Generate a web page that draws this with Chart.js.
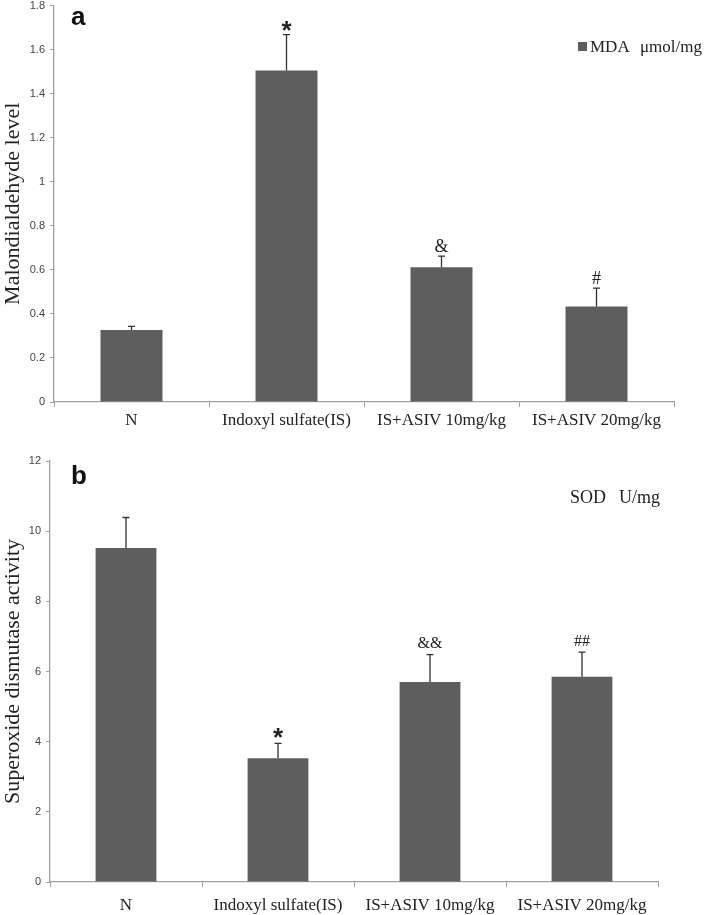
<!DOCTYPE html>
<html>
<head>
<meta charset="utf-8">
<script src="https://cdn.jsdelivr.net/npm/chart.js@4.4.0/dist/chart.umd.min.js"></script>
<style>
  html, body { margin: 0; padding: 0; background: #fff; }
  #wrap { position: relative; width: 709px; height: 915px; overflow: hidden; }
  #boxA { position: absolute; left: 0; top: -6px; }
  #boxB { position: absolute; left: 0; top: 430px; }
</style>
</head>
<body>
<div id="wrap">
  <canvas id="boxA" width="709" height="436"></canvas>
  <canvas id="boxB" width="709" height="485"></canvas>
</div>
<script>
// groups on the x axis
const groups = ['N', 'Indoxyl sulfate(IS)', 'IS+ASIV 10mg/kg', 'IS+ASIV 20mg/kg'];

// panel a - malondialdehyde (MDA, umol/mg)
const mdaValues = [0.327, 1.505, 0.612, 0.434];
const mdaErrors = [0.016, 0.163, 0.05, 0.083];
const mdaMarks = ['', '*', '&', '#'];
const mdaTicks = [0, 0.2, 0.4, 0.6, 0.8, 1, 1.2, 1.4, 1.6, 1.8];

// panel b - superoxide dismutase (SOD, U/mg)
const sodValues = [9.52, 3.53, 5.7, 5.85];
const sodErrors = [0.87, 0.42, 0.78, 0.7];
const sodMarks = ['', '*', '&&', '##'];
const sodTicks = [0, 2, 4, 6, 8, 10, 12];

const BAR = '#5e5e5e';
const AXIS = '#a0a0a0';
const SERIF = '"Liberation Serif", "Times New Roman", serif';
const SANS = '"Liberation Sans", Arial, sans-serif';

// draws error bars, significance marks, panel letter and the legend text
function makeExtras(cfg) {
  return {
    id: 'extras',
    afterDatasetsDraw(chart) {
      const ctx = chart.ctx;
      const y = chart.scales.y;
      const meta = chart.getDatasetMeta(0);
      ctx.save();
      meta.data.forEach((bar, i) => {
        const x = bar.x;
        const yTop = y.getPixelForValue(cfg.values[i] + cfg.errors[i]);
        const yBar = y.getPixelForValue(cfg.values[i]);
        ctx.strokeStyle = '#333';
        ctx.lineWidth = 1.3;
        ctx.beginPath();
        ctx.moveTo(x, yBar);
        ctx.lineTo(x, yTop);
        ctx.moveTo(x - 3.5, yTop);
        ctx.lineTo(x + 3.5, yTop);
        ctx.stroke();

        const m = cfg.marks[i];
        if (!m) return;
        const cy = yTop - cfg.markGap;
        ctx.fillStyle = '#222';
        ctx.textAlign = 'center';
        ctx.textBaseline = 'alphabetic';
        if (m === '*') {
          ctx.font = 'bold 26px ' + SANS;
          ctx.fillText(m, x, cy + 0.57 * 26);
        } else {
          ctx.font = cfg.markSize + 'px ' + SERIF;
          ctx.fillText(m, x, cy + 0.34 * cfg.markSize);
        }
      });
      ctx.restore();
    },
    afterDraw(chart) {
      const ctx = chart.ctx;
      ctx.save();
      ctx.fillStyle = '#111';
      ctx.textAlign = 'left';
      ctx.textBaseline = 'alphabetic';
      ctx.font = 'bold 26px ' + SANS;
      ctx.fillText(cfg.letter, cfg.letterX, cfg.letterY);
      if (cfg.swatch) {
        ctx.fillStyle = BAR;
        ctx.fillRect(cfg.swatch[0], cfg.swatch[1], 9, 9);
      }
      ctx.fillStyle = '#222';
      ctx.font = cfg.legendSize + 'px ' + SERIF;
      ctx.fillText(cfg.legend[0], cfg.legendX[0], cfg.legendY);
      ctx.fillText(cfg.legend[1], cfg.legendX[1], cfg.legendY);
      ctx.restore();
    }
  };
}

function makeChart(id, p) {
  return new Chart(document.getElementById(id), {
    type: 'bar',
    data: {
      labels: groups,
      datasets: [{
        data: p.values,
        backgroundColor: BAR,
        borderWidth: 0,
        barPercentage: 0.4,
        categoryPercentage: 1
      }]
    },
    options: {
      responsive: false,
      animation: false,
      devicePixelRatio: 1,
      layout: { padding: { top: p.padTop, right: p.padRight, left: 0, bottom: 0 } },
      plugins: { legend: { display: false }, tooltip: { enabled: false } },
      scales: {
        x: {
          offset: true,
          grid: { offset: true, drawOnChartArea: false, drawTicks: true, tickLength: 5, color: AXIS },
          border: { color: AXIS, width: 1.3 },
          ticks: {
            font: { family: SERIF, size: 17 },
            color: '#222',
            padding: p.labelPad,
            maxRotation: 0,
            autoSkip: false
          },
          afterFit: s => { s.height = p.xHeight; }
        },
        y: {
          min: 0,
          max: p.ticks[p.ticks.length - 1],
          afterBuildTicks: s => { s.ticks = p.ticks.map(v => ({ value: v })); },
          grid: { drawOnChartArea: false, drawTicks: true, tickLength: 4, color: AXIS },
          border: { color: AXIS, width: 1.3 },
          ticks: {
            font: { family: SANS, size: 11 },
            color: '#444',
            padding: 5,
            callback: v => String(Number(v.toFixed(2)))
          },
          title: {
            display: true,
            text: p.title,
            font: { family: SERIF, size: 22 },
            color: '#222',
            padding: 0
          },
          afterFit: s => { s.width = p.yWidth; }
        }
      }
    },
    plugins: [makeExtras(p)]
  });
}

makeChart('boxA', {
  values: mdaValues, errors: mdaErrors, marks: mdaMarks, ticks: mdaTicks,
  title: 'Malondialdehyde level',
  padTop: 0, padRight: 35, xHeight: 28, yWidth: 54, labelPad: 3, markGap: 10, markSize: 18,
  letter: 'a', letterX: 71, letterY: 31,
  swatch: [578, 48], legend: ['MDA', '\u03bcmol/mg'], legendX: [590, 640], legendY: 58, legendSize: 17
});

makeChart('boxB', {
  values: sodValues, errors: sodErrors, marks: sodMarks, ticks: sodTicks,
  title: 'Superoxide dismutase activity',
  padTop: 31, padRight: 51, xHeight: 33, yWidth: 50, labelPad: 8, markGap: 12, markSize: 16,
  letter: 'b', letterX: 71, letterY: 54,
  swatch: null, legend: ['SOD', 'U/mg'], legendX: [570, 619], legendY: 73, legendSize: 18
});
</script>
</body>
</html>
